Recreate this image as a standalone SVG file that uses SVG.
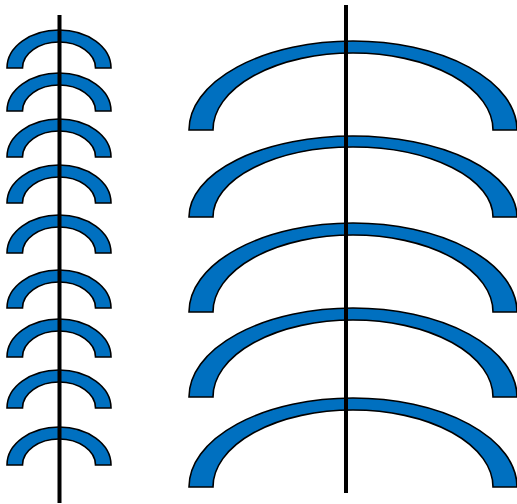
<svg xmlns="http://www.w3.org/2000/svg" xmlns:xlink="http://www.w3.org/1999/xlink" width="517" height="504" viewBox="0 0 517 504">
<style>
.arch{fill:#0070C0;stroke:#000;stroke-width:1.6;stroke-linejoin:miter}
.axis{stroke:#000;stroke-width:4;fill:none}
</style>
<defs>
<path id="sa" class="arch" d="M-52,0 A52,38 0 0 1 52,0 L36.5,0 A36.5,26 0 0 0 -36.5,0 Z"/>
<path id="ba" class="arch" d="M-164,0 A164,89 0 0 1 164,0 L140,0 A140,77 0 0 0 -140,0 Z"/>
<path id="ba2" class="arch" d="M-164,0 A164,81 0 0 1 164,0 L140,0 A140,70 0 0 0 -140,0 Z"/>
</defs>
<rect width="517" height="504" fill="#fff"/>
<g id="small1"><use xlink:href="#sa" transform="translate(59,68)"/></g>
<g id="small2"><use xlink:href="#sa" transform="translate(59,111)"/></g>
<g id="small3"><use xlink:href="#sa" transform="translate(59,157)"/></g>
<g id="small4"><use xlink:href="#sa" transform="translate(59,203)"/></g>
<g id="small5"><use xlink:href="#sa" transform="translate(59,253)"/></g>
<g id="small6"><use xlink:href="#sa" transform="translate(59,308)"/></g>
<g id="small7"><use xlink:href="#sa" transform="translate(59,357)"/></g>
<g id="small8"><use xlink:href="#sa" transform="translate(59,408)"/></g>
<g id="small9"><use xlink:href="#sa" transform="translate(59,465)"/></g>
<g id="big1"><use xlink:href="#ba" transform="translate(353,130)"/></g>
<g id="big2"><use xlink:href="#ba2" transform="translate(353,217)"/></g>
<g id="big3"><use xlink:href="#ba" transform="translate(353,312)"/></g>
<g id="big4"><use xlink:href="#ba" transform="translate(353,397)"/></g>
<g id="big5"><use xlink:href="#ba" transform="translate(353,487)"/></g>
<g id="connectors">
<line class="axis" x1="59.5" y1="15" x2="59.5" y2="503"/>
<line class="axis" x1="346" y1="5" x2="346" y2="493"/>
</g>
</svg>
